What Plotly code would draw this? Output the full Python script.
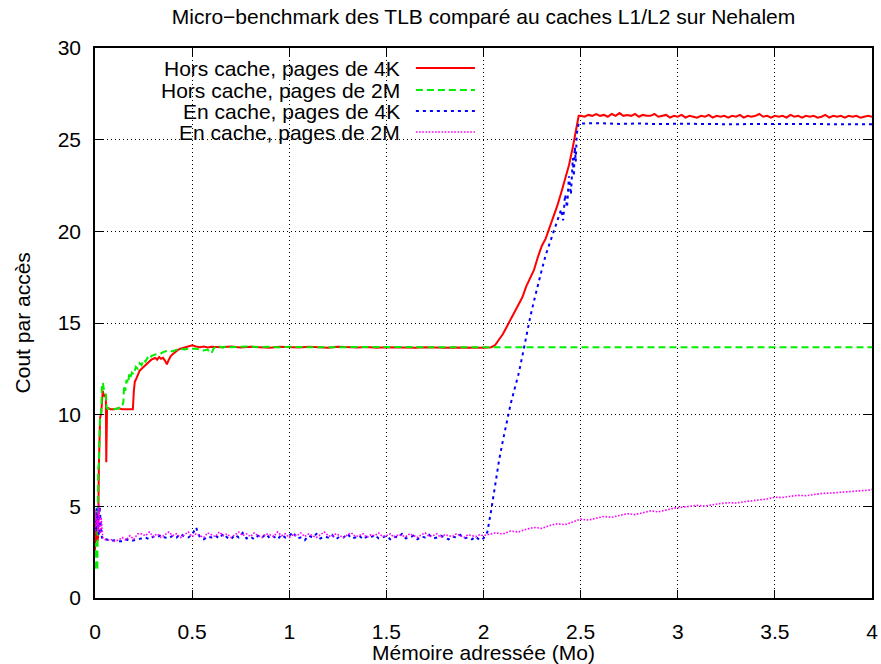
import plotly.graph_objects as go

# ---------------- data ----------------
# Hors cache, pages de 4K
hc4k_x = [0.000, 0.004, 0.008, 0.012, 0.016, 0.020, 0.026, 0.032, 0.036, 0.040,
          0.046, 0.052, 0.056, 0.058, 0.062, 0.068, 0.080, 0.100, 0.120, 0.140,
          0.160, 0.180, 0.195, 0.200, 0.205, 0.210, 0.220, 0.230, 0.240, 0.250,
          0.260, 0.270, 0.280, 0.290, 0.300, 0.310, 0.320, 0.330, 0.340, 0.350,
          0.360, 0.370, 0.380, 0.390, 0.400, 0.410, 0.420, 0.430, 0.440, 0.460,
          0.480, 0.500, 0.520, 0.540, 0.560, 0.580, 0.600,
          0.65, 0.70, 0.75, 0.80, 0.85, 0.90, 0.95, 1.00, 1.05, 1.10,
          1.15, 1.20, 1.25, 1.30, 1.35, 1.40, 1.45, 1.50, 1.55, 1.60,
          1.65, 1.70, 1.75, 1.80, 1.85, 1.90, 1.95, 2.00, 2.04,
          2.06, 2.08, 2.10, 2.12, 2.14, 2.16, 2.18, 2.20, 2.22, 2.24,
          2.26, 2.28, 2.30, 2.32, 2.34, 2.36, 2.38, 2.40, 2.42, 2.44,
          2.46, 2.48, 2.49,
          2.50, 2.52, 2.54, 2.56, 2.58, 2.60, 2.62, 2.64, 2.66, 2.68,
          2.70, 2.72, 2.74, 2.76, 2.78, 2.80, 2.82, 2.84, 2.86, 2.88,
          2.90, 2.92, 2.94, 2.96, 2.98, 3.00, 3.02, 3.04, 3.06, 3.08,
          3.10, 3.12, 3.14, 3.16, 3.18, 3.20, 3.22, 3.24, 3.26, 3.28,
          3.30, 3.32, 3.34, 3.36, 3.38, 3.40, 3.42, 3.44, 3.46, 3.48,
          3.50, 3.52, 3.54, 3.56, 3.58, 3.60, 3.62, 3.64, 3.66, 3.68,
          3.70, 3.72, 3.74, 3.76, 3.78, 3.80, 3.82, 3.84, 3.86, 3.88,
          3.90, 3.92, 3.94, 3.96, 3.98, 4.00]
hc4k_y = [2.6, 3.4, 4.6, 3.1, 3.3, 7.2, 9.8, 10.1, 11.2, 11.3,
          11.0, 11.1, 10.9, 7.4, 10.3, 10.35, 10.3, 10.3, 10.35, 10.3,
          10.3, 10.3, 10.3, 11.3, 11.8, 11.9, 12.2, 12.4, 12.5, 12.6,
          12.75, 12.85, 12.9, 13.0, 13.05, 13.1, 13.0, 13.15, 13.05, 13.1,
          12.95, 12.75, 13.0, 13.2, 13.3, 13.4, 13.5, 13.55, 13.6, 13.65,
          13.7, 13.78, 13.72, 13.68, 13.72, 13.66, 13.7,
          13.68, 13.72, 13.66, 13.70, 13.68, 13.65, 13.70, 13.68, 13.66, 13.70,
          13.67, 13.65, 13.70, 13.68, 13.66, 13.69, 13.65, 13.68, 13.66, 13.67,
          13.65, 13.68, 13.66, 13.65, 13.67, 13.65, 13.66, 13.65, 13.68,
          13.8, 14.1, 14.4, 14.8, 15.2, 15.6, 15.95, 16.4, 17.0, 17.5,
          17.9, 18.6, 19.2, 19.6, 20.2, 20.7, 21.4, 22.1, 22.8, 23.6,
          24.6, 25.8, 26.3,
          26.30, 26.25, 26.35, 26.30, 26.40, 26.30, 26.35, 26.25, 26.40, 26.30,
          26.45, 26.30, 26.35, 26.30, 26.40, 26.25, 26.35, 26.30, 26.30, 26.40,
          26.25, 26.30, 26.35, 26.20, 26.30, 26.25, 26.35, 26.20, 26.30, 26.25,
          26.20, 26.30, 26.25, 26.35, 26.20, 26.30, 26.25, 26.30, 26.20, 26.30,
          26.25, 26.35, 26.20, 26.30, 26.25, 26.30, 26.40, 26.25, 26.30, 26.20,
          26.30, 26.25, 26.30, 26.20, 26.35, 26.25, 26.30, 26.20, 26.30, 26.25,
          26.30, 26.20, 26.25, 26.35, 26.20, 26.30, 26.25, 26.30, 26.20, 26.30,
          26.25, 26.30, 26.20, 26.25, 26.30, 26.25]

# Hors cache, pages de 2M
hc2m_x = [0.000, 0.004, 0.008, 0.012, 0.016, 0.020, 0.026, 0.032, 0.036, 0.040,
          0.044, 0.050, 0.056, 0.060, 0.066, 0.080, 0.100, 0.120, 0.140, 0.146,
          0.150, 0.156, 0.162, 0.170, 0.176, 0.182, 0.190, 0.200, 0.210, 0.220,
          0.230, 0.240, 0.250, 0.260, 0.270, 0.280, 0.290, 0.300, 0.320, 0.340,
          0.360, 0.380, 0.400, 0.420, 0.440, 0.460, 0.480, 0.500, 0.520, 0.540,
          0.560, 0.580, 0.590, 0.600, 0.610, 0.620, 0.640, 0.660, 0.680, 0.700,
          0.750, 0.800, 0.850, 0.900, 0.950, 1.000,
          1.1, 1.2, 1.3, 1.4, 1.5, 1.6, 1.7, 1.8, 1.9, 2.0,
          2.1, 2.2, 2.3, 2.4, 2.5, 2.6, 2.7, 2.8, 2.9, 3.0,
          3.1, 3.2, 3.3, 3.4, 3.5, 3.6, 3.7, 3.8, 3.9, 4.0]
hc2m_y = [1.6, 3.0, 2.2, 1.5, 7.0, 7.3, 9.9, 10.1, 11.7, 11.75,
          11.5, 11.2, 11.1, 10.4, 10.3, 10.35, 10.3, 10.35, 10.4, 10.7,
          11.6, 11.3, 11.9, 11.7, 12.2, 12.0, 12.3, 12.2, 12.6, 12.5,
          12.8, 12.7, 13.0, 12.9, 13.1, 13.0, 13.2, 13.25, 13.3, 13.35,
          13.45, 13.5, 13.45, 13.55, 13.6, 13.55, 13.6, 13.62, 13.6, 13.55,
          13.5, 13.55, 13.4, 13.35, 13.6, 13.7, 13.72, 13.66, 13.75, 13.68,
          13.70, 13.72, 13.68, 13.70, 13.67, 13.70,
          13.68, 13.69, 13.68, 13.67, 13.68, 13.69, 13.68, 13.68, 13.67, 13.68,
          13.69, 13.68, 13.68, 13.69, 13.68, 13.68, 13.69, 13.68, 13.68, 13.69,
          13.68, 13.68, 13.69, 13.68, 13.68, 13.69, 13.68, 13.68, 13.69, 13.68]

# x samples shared by both "en cache" series below 2 Mo
ec_x_low = [0.000, 0.004, 0.008, 0.012, 0.016, 0.020, 0.024, 0.028, 0.032, 0.036,
            0.040, 0.050, 0.060, 0.080, 0.100, 0.120, 0.140, 0.160, 0.180, 0.200,
            0.220,
            0.24, 0.26, 0.28, 0.30, 0.32, 0.34, 0.36, 0.38, 0.40, 0.42,
            0.44, 0.46, 0.48, 0.50, 0.52, 0.54, 0.56, 0.58, 0.60, 0.62,
            0.64, 0.66, 0.68, 0.70, 0.72, 0.74, 0.76, 0.78, 0.80, 0.82,
            0.84, 0.86, 0.88, 0.90, 0.92, 0.94, 0.96, 0.98, 1.00, 1.02,
            1.04, 1.06, 1.08, 1.10, 1.12, 1.14, 1.16, 1.18, 1.20, 1.22,
            1.24, 1.26, 1.28, 1.30, 1.32, 1.34, 1.36, 1.38, 1.40, 1.42,
            1.44, 1.46, 1.48, 1.50, 1.52, 1.54, 1.56, 1.58, 1.60, 1.62,
            1.64, 1.66, 1.68, 1.70, 1.72, 1.74, 1.76, 1.78, 1.80, 1.82,
            1.84, 1.86, 1.88, 1.90, 1.92, 1.94, 1.96, 1.98, 2.00]

# En cache, pages de 4K
ec4k_y_low = [4.2, 3.6, 4.9, 3.8, 4.5, 3.4, 5.0, 3.9, 3.6, 3.3,
              3.2, 3.15, 3.2, 3.1, 3.15, 3.1, 3.1, 3.2, 3.1, 3.15,
              3.2,
              3.25, 3.30, 3.20, 3.35, 3.30, 3.45, 3.30, 3.25, 3.40, 3.30,
              3.50, 3.35, 3.30, 3.45, 3.85, 3.30, 3.20, 3.35, 3.30, 3.40,
              3.25, 3.50, 3.30, 3.20, 3.45, 3.30, 3.55, 3.25, 3.35, 3.20,
              3.40, 3.30, 3.50, 3.25, 3.35, 3.20, 3.45, 3.30, 3.40, 3.60,
              3.25, 3.30, 3.15, 3.40, 3.30, 3.50, 3.25, 3.35, 3.30, 3.45,
              3.20, 3.35, 3.30, 3.50, 3.25, 3.30, 3.40, 3.20, 3.35, 3.30,
              3.45, 3.25, 3.30, 3.40, 3.20, 3.35, 3.30, 3.50, 3.25, 3.30,
              3.40, 3.20, 3.35, 3.30, 3.45, 3.25, 3.30, 3.40, 3.30, 3.20,
              3.35, 3.30, 3.45, 3.25, 3.30, 3.20, 3.35, 3.15, 3.25]
ec4k_x_high = [2.02, 2.04, 2.06, 2.08, 2.10, 2.12, 2.14, 2.16, 2.18, 2.20,
               2.22, 2.24, 2.26, 2.28, 2.30, 2.32, 2.34, 2.36, 2.38, 2.40,
               2.41, 2.42, 2.43, 2.44, 2.45, 2.46, 2.465, 2.47, 2.475, 2.48,
               2.49,
               2.50, 2.60, 2.70, 2.80, 2.90, 3.00, 3.10, 3.20, 3.30, 3.40,
               3.50, 3.60, 3.70, 3.80, 3.90, 4.00]
ec4k_y_high = [3.6, 4.8, 6.2, 7.5, 8.6, 9.7, 10.6, 11.4, 12.2, 13.2,
               14.3, 15.3, 16.2, 17.1, 17.9, 18.7, 19.3, 19.9, 20.5, 21.2,
               20.6, 22.0, 21.3, 23.0, 22.0, 24.0, 23.0, 24.6, 23.8, 25.3,
               25.9,
               25.88, 25.90, 25.86, 25.88, 25.85, 25.87, 25.85, 25.86, 25.84, 25.86,
               25.85, 25.84, 25.86, 25.84, 25.85, 25.84]

# En cache, pages de 2M
ec2m_y_low = [3.5, 4.8, 3.9, 4.3, 3.6, 5.1, 4.0, 3.5, 4.4, 3.4,
              3.3, 3.2, 3.15, 3.2, 3.1, 3.15, 3.3, 3.15, 3.4, 3.2,
              3.5,
              3.50, 3.40, 3.60, 3.35, 3.50, 3.30, 3.45, 3.60, 3.40, 3.50,
              3.30, 3.45, 3.60, 3.35, 3.50, 3.40, 3.30, 3.55, 3.45, 3.35,
              3.60, 3.40, 3.50, 3.30, 3.45, 3.60, 3.40, 3.50, 3.35, 3.55,
              3.40, 3.30, 3.50, 3.45, 3.35, 3.60, 3.40, 3.50, 3.30, 3.45,
              3.40, 3.55, 3.35, 3.50, 3.40, 3.30, 3.45, 3.60, 3.40, 3.35,
              3.50, 3.40, 3.30, 3.45, 3.55, 3.35, 3.40, 3.50, 3.30, 3.45,
              3.40, 3.55, 3.35, 3.40, 3.50, 3.30, 3.45, 3.40, 3.35, 3.50,
              3.40, 3.30, 3.45, 3.55, 3.35, 3.40, 3.50, 3.30, 3.45, 3.40,
              3.35, 3.50, 3.40, 3.30, 3.45, 3.40, 3.35, 3.45, 3.40]
ec2m_x_high = [2.02, 2.06, 2.10, 2.14, 2.18, 2.22, 2.26, 2.30, 2.34, 2.38,
               2.42, 2.46, 2.50, 2.54, 2.58, 2.62, 2.66, 2.70, 2.74, 2.78,
               2.82, 2.86, 2.90, 2.94, 2.98, 3.02, 3.06, 3.10, 3.14, 3.18,
               3.22, 3.26, 3.30, 3.34, 3.38, 3.42, 3.46, 3.50, 3.54, 3.58,
               3.62, 3.66, 3.70, 3.74, 3.78, 3.82, 3.86, 3.90, 3.94, 3.98,
               4.00]
ec2m_y_high = [3.45, 3.55, 3.50, 3.65, 3.60, 3.75, 3.85, 3.80, 3.95, 4.05,
               4.00, 4.15, 4.30, 4.25, 4.35, 4.45, 4.40, 4.50, 4.60, 4.55,
               4.65, 4.75, 4.70, 4.80, 4.90, 4.95, 5.00, 5.05, 5.02, 5.10,
               5.15, 5.20, 5.18, 5.25, 5.30, 5.35, 5.40, 5.50, 5.48, 5.55,
               5.60, 5.58, 5.65, 5.70, 5.72, 5.75, 5.78, 5.80, 5.85, 5.88,
               5.92]

x_ticks = [0, 0.5, 1, 1.5, 2, 2.5, 3, 3.5, 4]
y_ticks = [0, 5, 10, 15, 20, 25, 30]

series_names = ["Hors cache, pages de 4K", "Hors cache, pages de 2M",
                "En cache, pages de 4K", "En cache, pages de 2M"]

# ---------------- styles ----------------
FONT = "Liberation Sans, Arial, Helvetica, sans-serif"
FS = 21
styles = [
    dict(color="#ff0000", width=2, dash="solid"),
    dict(color="#00f000", width=2, dash="7px,4px"),
    dict(color="#0000ff", width=2, dash="3px,4px"),
    dict(color="#ff00ff", width=1.6, dash="1.6px,1.6px"),
]

series = [
    (hc4k_x, hc4k_y),
    (hc2m_x, hc2m_y),
    (ec_x_low + ec4k_x_high, ec4k_y_low + ec4k_y_high),
    (ec_x_low + ec2m_x_high, ec2m_y_low + ec2m_y_high),
]

fig = go.Figure()
for (xs, ys), name, st in zip(series, series_names, styles):
    fig.add_trace(go.Scatter(x=xs, y=ys, mode="lines", name=name,
                             line=dict(color=st["color"], width=st["width"],
                                       dash=st["dash"]),
                             hoverinfo="skip"))

# key box: white area hiding the grid, labels on the left, samples on the right
fig.add_shape(type="rect", xref="paper", yref="paper",
              x0=0, x1=0.5045, y0=0.829, y1=1,
              fillcolor="white", line=dict(width=0), layer="between")
key_rows = [0.9636, 0.9236, 0.8854, 0.8472]
for name, st, ry in zip(series_names, styles, key_rows):
    fig.add_annotation(xref="paper", yref="paper", x=0.395, y=ry,
                       text=name, showarrow=False, xanchor="right",
                       yanchor="middle", font=dict(family=FONT, size=FS, color="black"))
    fig.add_shape(type="line", xref="paper", yref="paper",
                  x0=0.413, x1=0.489, y0=ry, y1=ry,
                  line=dict(color=st["color"], width=st["width"], dash=st["dash"]),
                  layer="above")

# axis titles
fig.add_annotation(xref="paper", yref="paper", x=0.5, y=-0.0992,
                   text="Mémoire adressée (Mo)", showarrow=False,
                   xanchor="center", yanchor="middle",
                   font=dict(family=FONT, size=FS, color="black"))
fig.add_annotation(xref="paper", yref="paper", x=-0.094, y=0.501,
                   text="Cout par accès", showarrow=False, textangle=-90,
                   xanchor="center", yanchor="middle",
                   font=dict(family=FONT, size=FS, color="black"))

axis_common = dict(
    showline=True, linecolor="black", linewidth=1.5, mirror="ticks",
    ticks="inside", ticklen=8, tickwidth=1.2, tickcolor="black",
    showgrid=True, gridcolor="black", gridwidth=1, griddash="1px,3px",
    zeroline=False, tickfont=dict(family=FONT, size=FS, color="black"),
)

fig.update_xaxes(range=[0, 4], tickvals=x_ticks, ticklabelstandoff=14, **axis_common)
fig.update_yaxes(range=[0, 30], tickvals=y_ticks, ticklabelstandoff=8, **axis_common)

fig.update_layout(
    width=881, height=664,
    margin=dict(l=95, r=9, t=48, b=66, autoexpand=False),
    plot_bgcolor="white", paper_bgcolor="white",
    showlegend=False,
    font=dict(family=FONT, size=FS, color="black"),
    title=dict(text="Micro−benchmark des TLB comparé au caches L1/L2 sur Nehalem",
               x=0.5, xref="paper", y=1 - 17 / 664, yref="container",
               yanchor="middle", xanchor="center",
               font=dict(family=FONT, size=FS, color="black")),
)

fig.write_html("out.html")
